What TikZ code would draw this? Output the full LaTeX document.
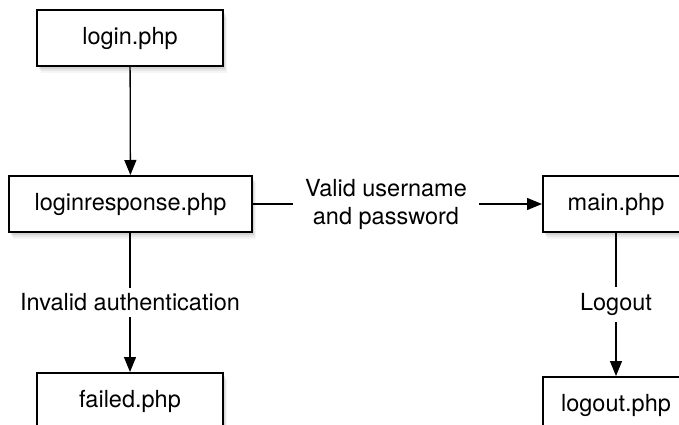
\documentclass[tikz,border=0pt]{standalone}
\usepackage{fontspec}
\setmainfont{TeX Gyre Heros}
\usetikzlibrary{arrows.meta,shadows}

\begin{document}
\begin{tikzpicture}[x=1pt, y=1pt,
    font=\fontsize{23.5}{28}\selectfont,
    page/.style = {shape=rectangle, draw, line width=2pt,
      fill=white, minimum height=56pt, inner sep=0pt,
      drop shadow={shadow xshift=4pt, shadow yshift=-7pt, opacity=0.08},
      drop shadow={shadow xshift=3pt, shadow yshift=-5pt, opacity=0.12},
      drop shadow={shadow xshift=2pt, shadow yshift=-3pt, opacity=0.18}},
    flow/.style = {line width=1.3pt, -{Triangle[length=15pt, width=12pt]}},
    cond/.style = {fill=white, inner xsep=12pt, inner ysep=6pt, align=center}]
    \clip (0,0) rectangle (679,-425);
    \useasboundingbox (0,0) rectangle (679,-425);

    \node[page, minimum width=186pt] (login) at (130,-38) {login.php};
    \node[page, minimum width=243pt] (resp) at (130.5,-204) {loginresponse.php};
    \node[page, minimum width=146pt] (main) at (616,-204) {main.php};
    \node[page, minimum width=186pt] (failed) at (130,-401) {failed.php};
    \node[page, minimum width=146pt] (logout) at (616,-405) {logout.php};

    \draw[flow] (login) -- (resp);
    \draw[flow] (resp) -- node[cond, pos=0.46] {Valid username\\and password} (main);
    \draw[flow] (resp.south -| failed) -- node[cond] {Invalid authentication} (failed);
    \draw[flow] (main) -- node[cond] {Logout} (logout);
\end{tikzpicture}
\end{document}
